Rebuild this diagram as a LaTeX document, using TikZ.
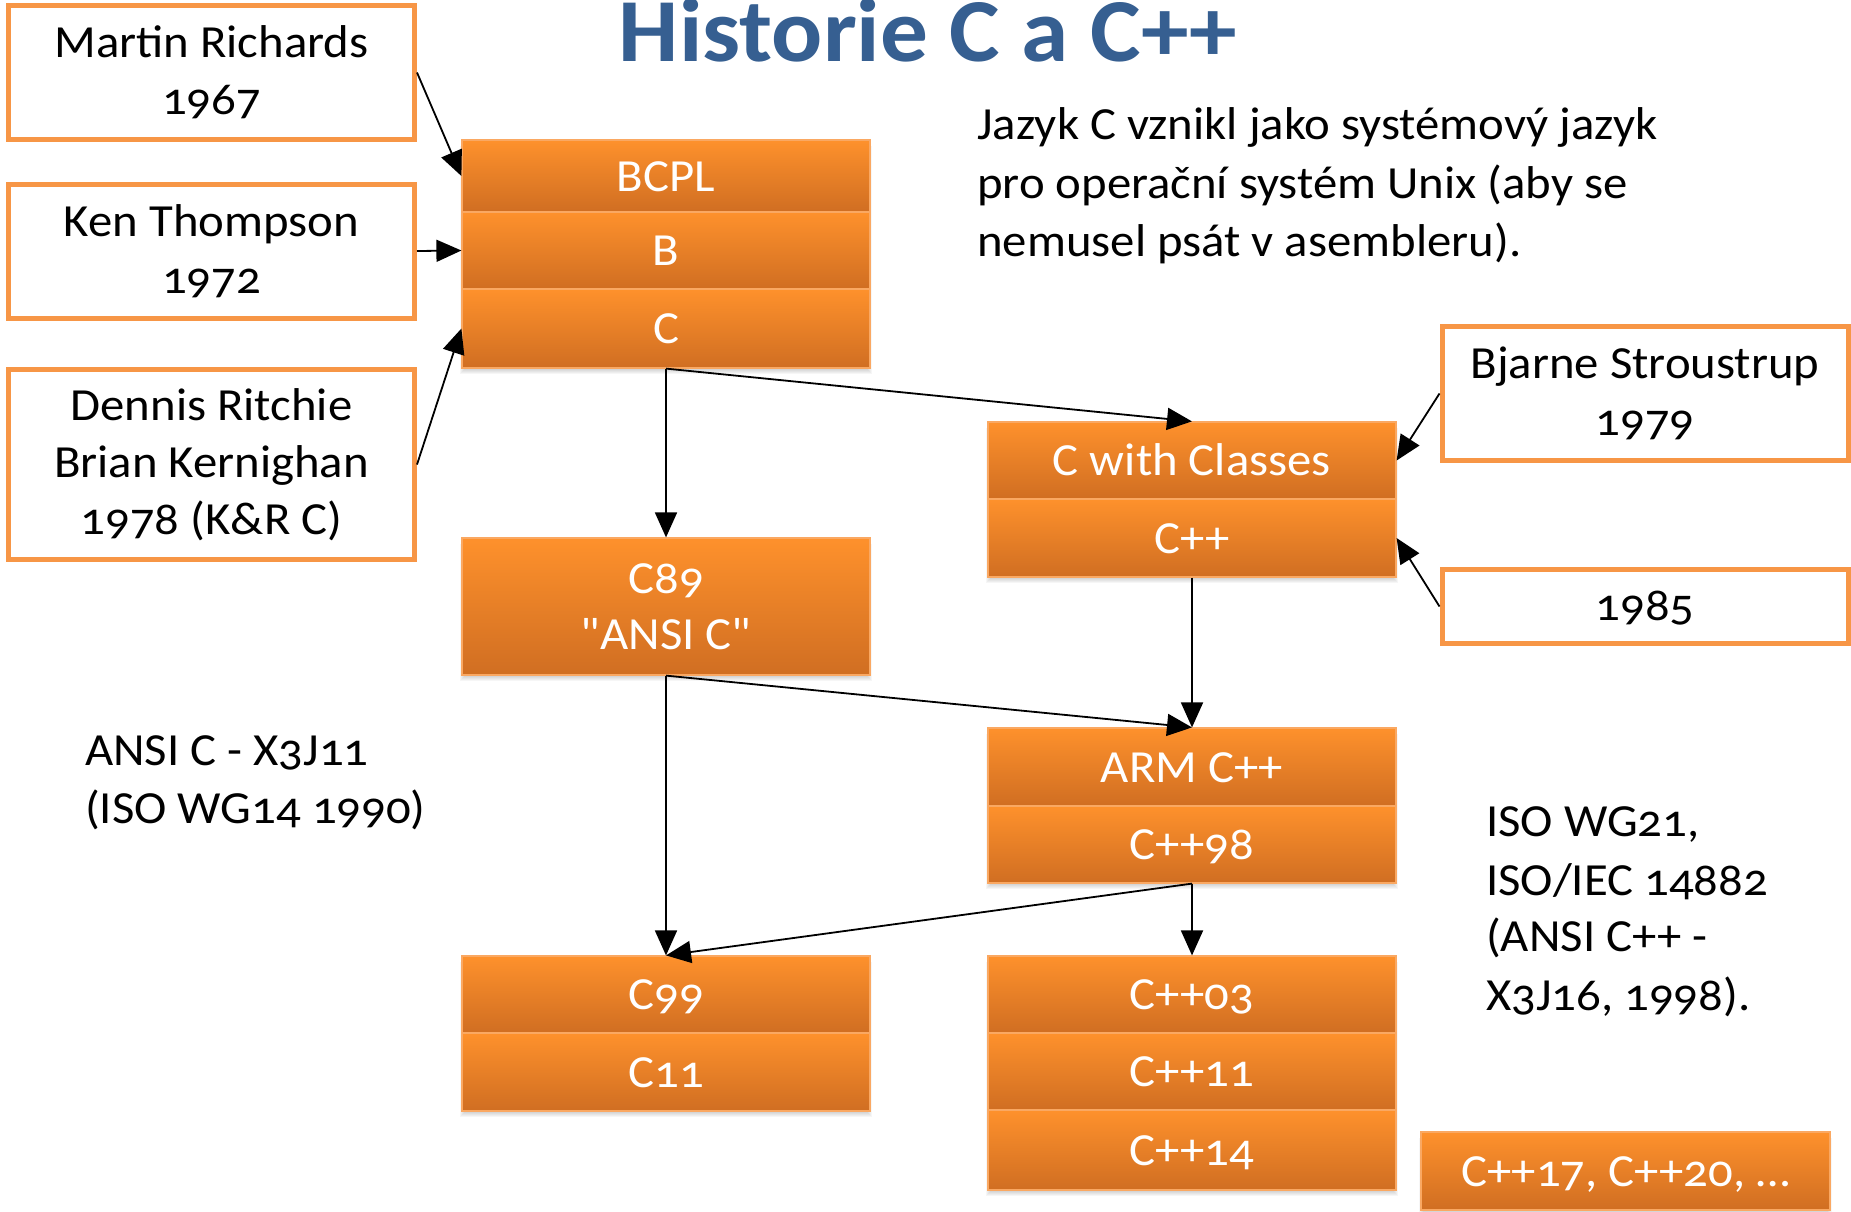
\documentclass[tikz,border=0pt]{standalone}
\usepackage{fontspec}
\setmainfont{Carlito}[Numbers=OldStyle,FakeStretch=1.06,Ligatures=TeXOff]
\usetikzlibrary{arrows.meta}
\definecolor{oline}{RGB}{247,150,70}
\definecolor{otop}{RGB}{254,145,44}
\definecolor{obot}{RGB}{208,110,34}
\definecolor{cellline}{RGB}{250,168,98}
\definecolor{tblue}{RGB}{54,95,145}
\tikzset{
 whitebox/.style={draw=oline, line width=5pt, fill=white, inner sep=0pt, minimum width=406pt, align=center, font=\fontsize{46}{57}\selectfont},
 cell/.style={draw=cellline, line width=1.2pt, top color=otop, bottom color=obot, text=white, inner sep=0pt, minimum width=408pt, text height=30pt, text depth=0pt, font=\fontsize{46}{56}\selectfont},
 conn/.style={line width=1.8pt, -{Triangle[length=25pt,width=22pt]}},
 bodytext/.style={anchor=base west, inner sep=0pt, font=\fontsize{46}{57}\selectfont},
}
\newcommand\softshadow[4]{%
 \foreach \d in {0,...,5}{\fill[black,opacity=0.035] (#1+3-\d,#2+6) rectangle (#3-3+\d,#4+1+\d);}}
\begin{document}
\begin{tikzpicture}[x=1pt,y=-1pt]
\useasboundingbox (0,0) rectangle (1851,1211);
% title
\node[anchor=base, inner sep=0pt, text=tblue, font=\fontsize{90}{90}\selectfont\bfseries] (title) at (928,61) {Historie C a C++};
% shadows
\softshadow{462}{140}{870}{368}
\softshadow{988}{422}{1396}{577}
\softshadow{462}{538}{870}{675}
\softshadow{988}{728}{1396}{883}
\softshadow{462}{956}{870}{1111}
\softshadow{988}{956}{1396}{1190}
\softshadow{1421}{1132}{1830}{1210}
% white boxes
\node[whitebox, minimum height=134pt] (mr) at (211.5,72.5) {Martin Richards\\1967};
\node[whitebox, minimum height=134pt] (kt) at (211.5,251) {Ken Thompson\\1972};
\node[whitebox, minimum height=190pt] (dr) at (211.5,464.5) {Dennis Ritchie\\Brian Kernighan\\1978 (K\&R C)};
\node[whitebox, minimum height=134pt] (bs) at (1645,393.5) {Bjarne Stroustrup\\1979};
\node[whitebox, minimum height=74pt, text height=27pt, text depth=0pt] (y85) at (1645,606.5) {1985};
% orange cells
\node[cell, minimum height=72pt] (bcpl) at (666,176) {BCPL};
\node[cell, minimum height=77pt] (b) at (666,250.5) {B};
\node[cell, minimum height=79pt] (c) at (666,328.5) {C};
\node[cell, minimum height=77pt] (cwc) at (1192,460.5) {C with Classes};
\node[cell, minimum height=78pt] (cpp) at (1192,538) {C++};
\node[cell, minimum height=137pt, align=center, text height=, text depth=] (c89) at (666,606.5) {C89\\"ANSI C"};
\node[cell, minimum height=78pt] (arm) at (1192,767) {ARM C++};
\node[cell, minimum height=77pt] (cpp98) at (1192,844.5) {C++98};
\node[cell, minimum height=77pt] (c99) at (666,994.5) {C99};
\node[cell, minimum height=78pt] (c11) at (666,1072) {C11};
\node[cell, minimum height=77pt] (cpp03) at (1192,994.5) {C++03};
\node[cell, minimum height=77pt] (cpp11) at (1192,1071.5) {C++11};
\node[cell, minimum height=80pt] (cpp14) at (1192,1150) {C++14};
\node[cell, minimum height=78pt, minimum width=409pt] (cpp17) at (1625.5,1171) {C++17, C++20, …};
% texts
\node[bodytext] (j1) at (977,139) {Jazyk C vznikl jako systémový jazyk};
\node[bodytext] (j2) at (977,198) {pro operační systém Unix (aby se};
\node[bodytext] (j3) at (977,256) {nemusel psát v asembleru).};
\node[bodytext] (a1) at (85,765) {ANSI C - X3J11};
\node[bodytext] (a2) at (85,823) {(ISO WG14 1990)};
\node[bodytext] (i1) at (1486,836) {ISO WG21,};
\node[bodytext] (i2) at (1486,895) {ISO/IEC 14882};
\node[bodytext] (i3) at (1486,951) {(ANSI C++ -};
\node[bodytext] (i4) at (1486,1010) {X3J16, 1998).};
% connectors
\draw[conn] (mr.east) -- (bcpl.west);
\draw[conn] (kt.east) -- (b.west);
\draw[conn] (dr.east) -- (c.west);
\draw[conn] (c.south) -- (cwc.north);
\draw[conn] (c.south) -- (c89.north);
\draw[conn] (bs.west) -- (cwc.east);
\draw[conn] (y85.west) -- (cpp.east);
\draw[conn] (cpp.south) -- (arm.north);
\draw[conn] (c89.south) -- (arm.north);
\draw[conn] (c89.south) -- (c99.north);
\draw[conn] (cpp98.south) -- (c99.north);
\draw[conn] (cpp98.south) -- (cpp03.north);
\end{tikzpicture}
\end{document}
